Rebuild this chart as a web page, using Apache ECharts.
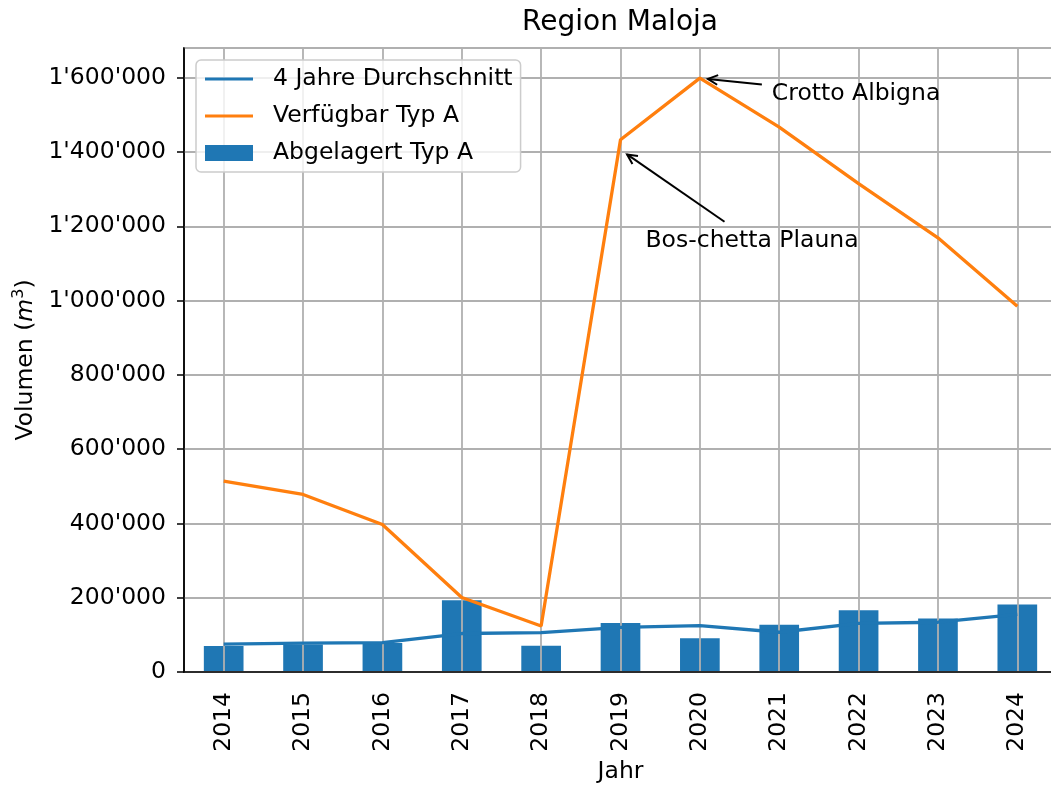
<!DOCTYPE html>
<html>
<head>
<meta charset="utf-8">
<script src="https://cdn.jsdelivr.net/npm/echarts@6/dist/echarts.min.js"></script>
<style>
  html, body { margin: 0; background: #fff; }
  #main { width: 1051px; height: 785px; }
</style>
</head>
<body>
<div id="main"></div>
<script>
// data
const years = ['2014', '2015', '2016', '2017', '2018', '2019', '2020', '2021', '2022', '2023', '2024'];
const abgelagert = [70000, 74000, 78000, 193000, 71000, 132000, 91000, 127000, 166000, 144000, 182000];
const durchschnitt = [75000, 77500, 79000, 103600, 106000, 120000, 125000, 107000, 131000, 134000, 155000];
const verfuegbar = [514000, 478000, 397000, 200500, 124000, 1433000, 1599000, 1467000, 1315000, 1169000, 985000];
const annotationYears = ['2019', '2020'];
const annotationLabels = ['Bos-chetta Plauna', 'Crotto Albigna'];

const FONT = 'DejaVu Sans';
const FS = 23.5;
const BLUE = '#1f77b4';
const ORANGE = '#ff7f0e';
const LINE_ICON = 'path://M0,0 L50,0 L50,3.3 L0,3.3 Z';

function fmt(v) {
  if (v % 200000 !== 0) return '';
  return String(v).replace(/\B(?=(\d{3})+(?!\d))/g, "'");
}

const myChart = echarts.init(document.getElementById('main'), null, { renderer: 'canvas' });

myChart.setOption({
  animation: false,
  textStyle: { fontFamily: FONT, color: '#000' },
  title: {
    text: 'Region Maloja',
    left: 620,
    top: 9,
    textAlign: 'center',
    padding: 0,
    textStyle: { fontFamily: FONT, fontSize: 28, fontWeight: 'normal', color: '#000' }
  },
  legend: {
    orient: 'vertical',
    left: 196,
    top: 60,
    padding: [5, 8, 5, 9],
    itemWidth: 48,
    itemHeight: 16,
    itemGap: 9,
    backgroundColor: 'rgba(255,255,255,0.8)',
    borderColor: '#cccccc',
    borderWidth: 1.5,
    borderRadius: 5,
    textStyle: { fontFamily: FONT, fontSize: FS, color: '#000', lineHeight: 28, padding: [0, 0, 0, 15] },
    data: [
      { name: '4 Jahre Durchschnitt', icon: LINE_ICON },
      { name: 'Verfügbar Typ A', icon: LINE_ICON },
      { name: 'Abgelagert Typ A', icon: 'rect' }
    ]
  },
  grid: {
    left: 184,
    width: 873,
    top: 48,
    height: 624,
    outerBoundsMode: 'none',
    containLabel: false,
    show: true,
    borderColor: '#000',
    borderWidth: 1.5,
    backgroundColor: 'transparent'
  },
  xAxis: {
    type: 'category',
    data: years,
    z: 3,
    name: 'Jahr',
    nameLocation: 'middle',
    nameGap: 84,
    nameTextStyle: { fontFamily: FONT, fontSize: FS, color: '#000' },
    axisLine: { lineStyle: { color: '#000', width: 1.5 } },
    axisTick: { alignWithLabel: true, length: 7, lineStyle: { color: '#000', width: 1.5 } },
    axisLabel: { rotate: 90, margin: 20, fontFamily: FONT, fontSize: FS, color: '#000' },
    splitLine: { show: true, alignWithLabel: true, lineStyle: { color: '#b0b0b0', width: 1.8 } }
  },
  yAxis: {
    type: 'value',
    min: 0,
    max: 1680000,
    interval: 200000,
    z: 3,
    name: 'Volumen ({i|m}{s|3})',
    nameLocation: 'middle',
    nameGap: 144,
    nameTextStyle: {
      fontFamily: FONT, fontSize: FS, color: '#000',
      rich: {
        i: { fontFamily: FONT, fontSize: FS, fontStyle: 'italic', color: '#000' },
        s: { fontFamily: FONT, fontSize: 16, color: '#000', verticalAlign: 'bottom', padding: [0, 0, 13, 0] }
      }
    },
    axisLine: { show: true, lineStyle: { color: '#000', width: 1.5 } },
    axisTick: { show: true, length: 7, lineStyle: { color: '#000', width: 1.5 } },
    axisLabel: { margin: 18, fontFamily: FONT, fontSize: FS, color: '#000', formatter: fmt, showMaxLabel: false },
    splitLine: { show: true, lineStyle: { color: '#b0b0b0', width: 1.8 } }
  },
  series: [
    {
      name: '4 Jahre Durchschnitt',
      type: 'line',
      data: durchschnitt,
      symbol: 'none',
      z: 5,
      color: BLUE,
      lineStyle: { color: BLUE, width: 3.3 }
    },
    {
      name: 'Verfügbar Typ A',
      type: 'line',
      data: verfuegbar,
      symbol: 'none',
      z: 5,
      color: ORANGE,
      lineStyle: { color: ORANGE, width: 3.3 }
    },
    {
      name: 'Abgelagert Typ A',
      type: 'bar',
      data: abgelagert,
      barWidth: '50%',
      z: 2,
      color: BLUE,
      itemStyle: { color: BLUE }
    }
  ]
});

// annotations with arrows, placed relative to the data point (pixel offsets)
const arrowLayout = [
  { tip: [6.6, 14.7], tail: [104, 82], text: [25, 101] },
  { tip: [8, 0.8], tail: [62, 6.5], text: [72, 16] }
];

const graphics = [];
annotationYears.forEach(function (yr, k) {
  const idx = years.indexOf(yr);
  const p = myChart.convertToPixel({ seriesIndex: 1 }, [idx, verfuegbar[idx]]);
  const lay = arrowLayout[k];
  const tip = [p[0] + lay.tip[0], p[1] + lay.tip[1]];
  const tail = [p[0] + lay.tail[0], p[1] + lay.tail[1]];
  const ang = Math.atan2(tail[1] - tip[1], tail[0] - tip[0]);
  const hl = 11, ha = 0.46;
  const h1 = [tip[0] + hl * Math.cos(ang + ha), tip[1] + hl * Math.sin(ang + ha)];
  const h2 = [tip[0] + hl * Math.cos(ang - ha), tip[1] + hl * Math.sin(ang - ha)];
  graphics.push({
    type: 'line', z: 10,
    shape: { x1: tail[0], y1: tail[1], x2: tip[0], y2: tip[1] },
    style: { stroke: '#000', lineWidth: 2 }
  });
  graphics.push({
    type: 'polyline', z: 10,
    shape: { points: [h1, tip, h2] },
    style: { stroke: '#000', lineWidth: 2, fill: null }
  });
  graphics.push({
    type: 'text', z: 10,
    x: p[0] + lay.text[0], y: p[1] + lay.text[1],
    style: {
      text: annotationLabels[k], font: FS + 'px "DejaVu Sans"', fill: '#000',
      textAlign: 'left', textVerticalAlign: 'middle'
    }
  });
});
myChart.setOption({ graphic: graphics });
</script>
</body>
</html>
